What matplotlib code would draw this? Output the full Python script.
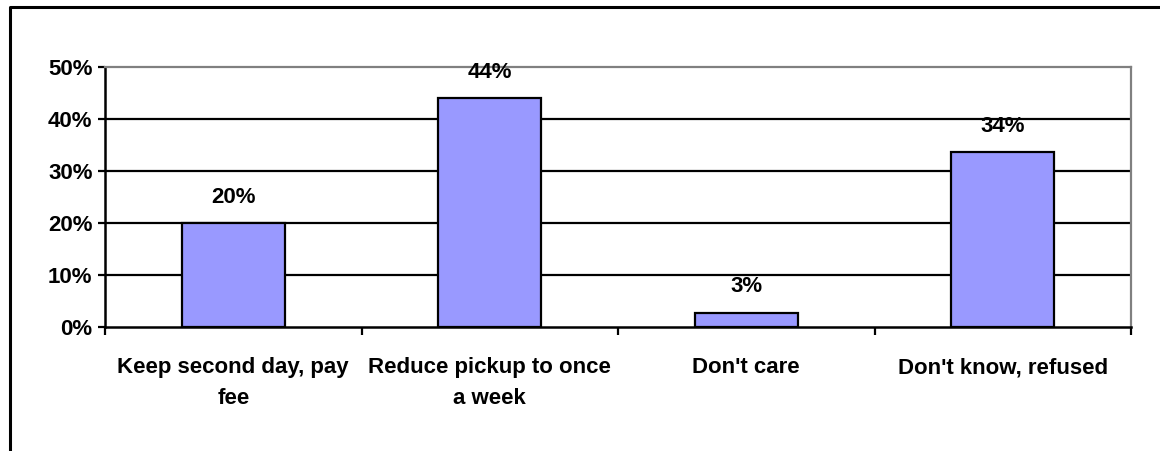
import matplotlib
matplotlib.use("Agg")
import matplotlib.pyplot as plt
from matplotlib.lines import Line2D
from matplotlib.ticker import PercentFormatter

categories = ["Keep second day, pay\nfee", "Reduce pickup to once\na week",
              "Don't care", "Don't know, refused"]
values = [19.9, 43.9, 2.7, 33.6]
value_labels = ["20%", "44%", "3%", "34%"]
y_ticks = [0, 10, 20, 30, 40, 50]

plt.rcParams['font.family'] = ['Liberation Sans', 'DejaVu Sans']
plt.rcParams['font.weight'] = 'bold'

W, H = 1160, 451
fig = plt.figure(figsize=(W / 100, H / 100), dpi=100)
ax = fig.add_axes([105 / W, 1 - 326.7 / H, (1131 - 105) / W, (326.7 - 66.7) / H])

# gridlines (black) under the bars
for t in y_ticks[1:-1]:
    ax.axhline(t, color="black", lw=1.6, zorder=1)

x = range(len(categories))
bars = ax.bar(x, values, width=0.4, color="#9999FF", edgecolor="black",
              linewidth=1.6, zorder=2)

for b, lab in zip(bars, value_labels):
    ax.annotate(lab, (b.get_x() + b.get_width() / 2, b.get_height()),
                xytext=(0, 18.5), textcoords="offset points",
                ha="center", va="center", fontsize=16, fontweight="bold",
                zorder=3)

ax.set_xlim(-0.5, 3.5)
ax.set_ylim(0, 50)
ax.set_yticks(y_ticks)
ax.yaxis.set_major_formatter(PercentFormatter(decimals=0))

# category ticks on the boundaries, labels centered on bars
ax.set_xticks([-0.5, 0.5, 1.5, 2.5, 3.5])
ax.set_xticklabels([])
ax.set_xticks(list(x), minor=True)
ax.set_xticklabels(categories, minor=True, fontsize=16, fontweight="bold",
                   linespacing=1.6)
ax.tick_params(axis="x", which="minor", length=0, pad=22)
ax.tick_params(axis="x", which="major", length=6, width=1.6, direction="out")
ax.tick_params(axis="y", length=5, width=1.6, direction="out", pad=4,
               labelsize=16)

for s in ["left", "bottom"]:
    ax.spines[s].set_color("black")
    ax.spines[s].set_linewidth(1.8)
for s in ["top", "right"]:
    ax.spines[s].set_color("#808080")
    ax.spines[s].set_linewidth(1.6)

# outer chart frame (left and top edges visible)
fig.add_artist(Line2D([10 / W, 10 / W, 1.0], [0.0, 1 - 7 / H, 1 - 7 / H],
                      transform=fig.transFigure, color="black", lw=2.2))

fig.savefig("out.png", dpi=100)
